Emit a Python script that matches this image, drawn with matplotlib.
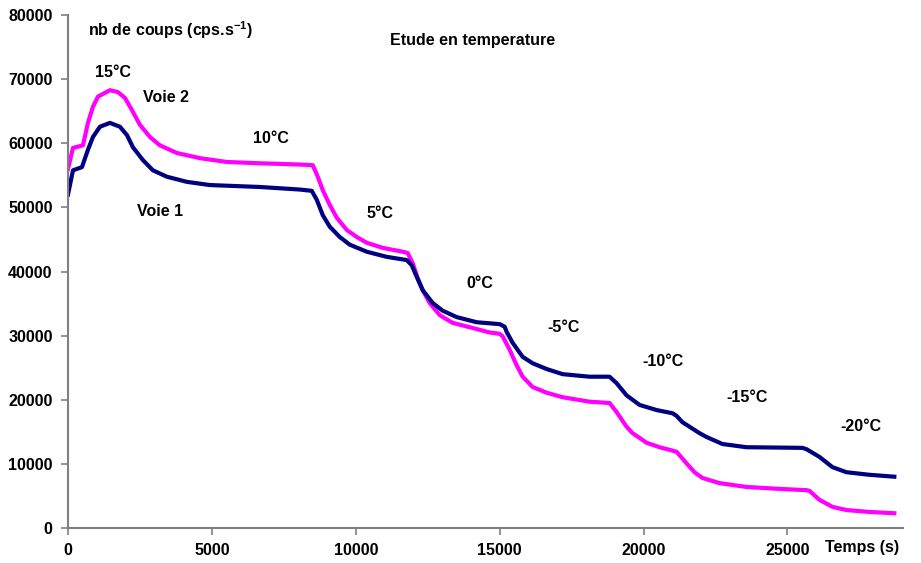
import numpy as np
import matplotlib.pyplot as plt

plt.rcParams['font.family'] = ['Liberation Sans', 'DejaVu Sans']
plt.rcParams['mathtext.fontset'] = 'custom'
plt.rcParams['mathtext.rm'] = 'Liberation Sans'
plt.rcParams['mathtext.bf'] = 'Liberation Sans:bold'

# Voie 2 (magenta)
t_voie2 = [0, 174, 521, 694, 868, 1042, 1458, 1736, 1979, 2222, 2500, 2847,
           3194, 3785, 4583, 5520, 6666, 8055, 8506, 8680, 8854, 9097, 9340,
           9687, 10034, 10381, 10937, 11631, 11805, 11978, 12152, 12326,
           12569, 12916, 13367, 14062, 14652, 15000, 15103, 15346, 15589,
           15798, 16145, 16631, 17186, 18124, 18818, 19061, 19408, 19617,
           20103, 20554, 20901, 21144, 21491, 21769, 22047, 22637, 23575,
           24721, 25658, 25762, 26109, 26561, 27047, 27845, 28713]
c_voie2 = [56000, 59300, 59700, 63200, 65700, 67300, 68300, 68000, 67100,
           65200, 62900, 61000, 59700, 58500, 57700, 57100, 56900, 56700,
           56600, 54800, 52700, 50400, 48400, 46500, 45400, 44500, 43700,
           43100, 42900, 41300, 39000, 37100, 35100, 33200, 32000, 31200,
           30500, 30300, 29900, 27800, 25400, 23600, 22000, 21100, 20400,
           19700, 19500, 18100, 15800, 14800, 13300, 12600, 12200, 11900,
           10100, 8700, 7800, 7000, 6400, 6100, 5900, 5800, 4400, 3300,
           2800, 2500, 2300]

# Voie 1 (navy)
t_voie1 = [0, 174, 486, 694, 868, 1111, 1458, 1805, 2049, 2257, 2604, 2951,
           3437, 4132, 4930, 6666, 8055, 8472, 8645, 8854, 9097, 9444, 9791,
           10381, 11076, 11770, 11944, 12117, 12326, 12673, 13020, 13506,
           14201, 15000, 15173, 15242, 15450, 15798, 16145, 16631, 17186,
           18124, 18818, 19061, 19408, 19860, 20450, 21005, 21144, 21352,
           21943, 22186, 22742, 23575, 25519, 25658, 26109, 26561, 27047,
           27845, 28713]
c_voie1 = [52000, 55800, 56300, 59000, 61000, 62600, 63200, 62600, 61300,
           59400, 57400, 55800, 54800, 54000, 53500, 53200, 52800, 52600,
           51200, 48800, 47000, 45400, 44200, 43100, 42300, 41800, 41000,
           39200, 37100, 35100, 33900, 32900, 32100, 31800, 31400, 30600,
           28900, 26700, 25700, 24800, 24000, 23600, 23600, 22600, 20700,
           19200, 18400, 17900, 17500, 16500, 14800, 14200, 13100, 12600,
           12500, 12300, 11100, 9500, 8700, 8300, 8000]

labels = ['15°C', '10°C', '5°C', '0°C', '-5°C', '-10°C', '-15°C', '-20°C']
label_x = [937, 6423, 10381, 13853, 16666, 19964, 22881, 26840]
label_y = [71000, 60840, 49140, 38220, 31200, 25900, 20280, 15900]

fig = plt.figure(figsize=(9.21, 5.63), dpi=100)
ax = fig.add_axes([0.0738, 0.0622, 0.9062, 0.9108])

ax.plot(t_voie2, c_voie2, color='#FF00FF', lw=3, solid_joinstyle='round')
ax.plot(t_voie1, c_voie1, color='#000080', lw=3, solid_joinstyle='round')

ax.set_xlim(0, 29000)
ax.set_ylim(0, 80000)
ax.set_xticks(np.arange(0, 25001, 5000))
ax.set_yticks(np.arange(0, 80001, 10000))
for s in ['top', 'right']:
    ax.spines[s].set_visible(False)
for s in ['left', 'bottom']:
    ax.spines[s].set_color('#808080')
    ax.spines[s].set_linewidth(1.5)
ax.tick_params(direction='out', length=5, width=1.2, color='#808080',
               labelsize=11.5, pad=6)
for lab in ax.get_xticklabels() + ax.get_yticklabels():
    lab.set_fontweight('bold')

kw = dict(fontsize=11.5, fontweight='bold', ha='left', va='center')
ax.text(694, 77700, 'nb de coups (cps.s$^{\\mathbf{-1}}$)', **kw)
ax.text(11180, 76100, 'Etude en temperature', **kw)
ax.text(2604, 67100, 'Voie 2', **kw)
ax.text(2396, 49300, 'Voie 1', **kw)
for lab, x, y in zip(labels, label_x, label_y):
    ax.text(x, y, lab, **kw)
ax.text(26318, -3120, 'Temps (s)', clip_on=False, **kw)

fig.savefig('out.png', dpi=100)
